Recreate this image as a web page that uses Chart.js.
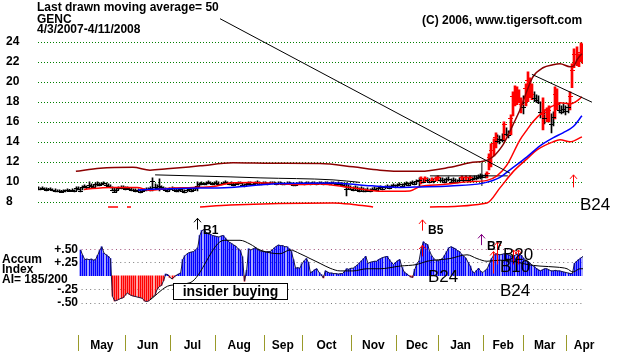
<!DOCTYPE html>
<html>
<head>
<meta charset="utf-8">
<script src="https://cdn.jsdelivr.net/npm/chart.js@4/dist/chart.umd.min.js"></script>
<style>
  html, body { margin: 0; padding: 0; background: #fff; }
  #wrap { width: 622px; height: 352px; }
</style>
</head>
<body>
<div id="wrap"><canvas id="genc" width="622" height="352"></canvas></div>
<script>
// daily bars, trading day index 0 = 4/3/2007
const highs = [
  9.5,9.4,9.5,9.4,9.4,9.35,9.4,9.3,9.3,9.2,
  9.2,9.15,9.2,9.2,9.3,9.25,9.3,9.2,9.5,9.5,
  9.4,9.6,9.7,9.6,10.0,9.8,9.7,9.9,10.0,9.9,
  9.9,10.0,9.9,9.8,9.7,9.5,9.4,9.3,9.5,9.6,
  9.6,9.5,9.5,9.4,9.4,9.3,9.3,9.3,9.2,9.3,
  9.3,9.4,9.4,9.5,10.4,9.8,9.7,10.3,9.6,9.5,
  9.4,9.3,9.4,9.5,9.4,9.3,9.3,9.4,9.3,9.2,
  9.3,9.4,9.3,9.4,9.5,10.0,9.9,10.0,9.9,10.0,
  10.1,10.0,9.9,10.0,10.1,10.0,9.9,10.0,10.1,10.0,
  9.9,10.0,9.9,9.9,10.0,10.0,9.9,9.8,9.9,10.0,
  10.0,9.9,10.0,10.1,10.0,9.9,10.0,10.0,9.9,10.0,
  10.0,10.0,9.9,10.0,10.0,9.9,9.9,10.0,10.0,9.9,
  9.9,9.8,9.9,10.0,10.0,9.9,10.0,10.0,9.9,10.0,
  10.0,9.9,10.0,10.0,9.9,10.0,10.0,9.9,10.0,10.0,
  9.9,10.0,9.9,9.9,9.8,9.9,9.7,9.6,9.5,9.6,
  9.5,9.4,9.5,9.4,9.3,9.4,9.3,9.4,9.5,9.4,
  9.5,9.6,9.5,9.6,9.7,9.6,9.7,9.8,9.7,9.8,
  9.9,9.8,9.9,10.0,9.9,10.0,10.1,10.0,10.2,10.4,
  10.5,10.3,10.5,10.4,10.3,10.4,10.3,10.5,10.6,10.4,
  10.4,10.3,10.4,10.5,10.3,10.4,10.3,10.2,10.4,10.6,
  10.4,10.6,10.4,10.6,10.5,10.6,10.6,10.7,10.8,10.7,
  10.8,11.0,12.8,13.8,14.3,14.9,14.7,14.6,14.8,16.0,
  15.4,15.1,16.7,19.0,19.6,19.5,19.2,18.4,18.6,19.8,
  21.0,20.4,19.8,19.0,18.7,18.6,18.0,18.4,17.2,17.4,
  17.6,16.8,17.0,19.5,19.3,17.9,17.6,17.8,17.6,17.8,
  19.0,21.8,23.3,23.5,22.8,23.9,23.8
];
const lows = [
  9.2,9.2,9.3,9.2,9.1,9.15,9.2,9.1,9.0,9.0,
  9.0,8.95,9.0,9.0,9.1,9.05,9.1,9.0,9.1,9.2,
  9.0,9.2,9.4,9.3,9.4,9.5,9.4,9.5,9.6,9.6,
  9.7,9.7,9.6,9.5,9.4,9.1,8.95,9.0,9.2,9.3,
  9.3,9.2,9.3,9.2,9.1,9.1,9.0,9.0,8.9,9.0,
  9.1,9.1,9.2,9.1,9.1,9.3,9.3,9.1,9.3,9.2,
  9.1,9.0,9.1,9.2,9.1,9.0,9.0,9.1,9.0,8.9,
  9.0,9.1,9.0,9.1,9.2,9.1,9.6,9.7,9.7,9.7,
  9.8,9.8,9.7,9.7,9.8,9.7,9.7,9.8,9.8,9.8,
  9.7,9.7,9.6,9.7,9.7,9.8,9.6,9.5,9.6,9.7,
  9.7,9.7,9.8,9.8,9.7,9.7,9.8,9.8,9.7,9.8,
  9.8,9.8,9.7,9.8,9.8,9.7,9.7,9.8,9.8,9.7,
  9.6,9.6,9.7,9.8,9.8,9.7,9.8,9.8,9.7,9.8,
  9.8,9.7,9.8,9.8,9.7,9.8,9.8,9.7,9.8,9.8,
  9.7,9.8,9.7,9.6,9.5,8.6,9.3,9.2,9.1,9.2,
  9.1,9.0,9.1,9.0,9.0,9.1,9.0,9.1,9.2,9.1,
  9.2,9.3,9.2,9.3,9.4,9.3,9.4,9.5,9.4,9.5,
  9.6,9.5,9.6,9.7,9.6,9.7,9.8,9.7,9.8,9.6,
  9.8,9.9,10.0,10.0,9.9,10.0,9.9,10.1,10.1,10.0,
  10.0,9.9,10.0,10.1,9.9,10.0,9.9,9.9,10.0,10.1,
  10.0,10.1,10.0,10.2,10.1,10.2,10.2,10.3,10.3,10.4,
  10.4,10.4,11.2,11.5,12.6,13.4,13.9,13.8,14.0,14.2,
  14.6,14.4,14.7,16.6,17.6,17.7,17.9,16.9,16.8,17.6,
  18.0,18.4,18.2,18.0,17.9,17.8,16.4,15.2,15.8,16.0,
  16.0,14.9,15.6,16.3,17.2,16.9,16.8,16.9,16.7,16.9,
  17.2,19.4,21.4,21.6,21.5,22.0,21.8
];
const closes = [
  9.3,9.3,9.4,9.25,9.2,9.3,9.25,9.2,9.1,9.1,
  9.1,9.0,9.1,9.15,9.2,9.1,9.2,9.1,9.4,9.3,
  9.1,9.5,9.6,9.5,9.7,9.6,9.5,9.8,9.8,9.7,
  9.8,9.9,9.7,9.6,9.5,9.2,9.0,9.2,9.4,9.5,
  9.4,9.3,9.4,9.3,9.2,9.2,9.1,9.2,9.0,9.1,
  9.2,9.3,9.3,9.4,10.1,9.5,9.4,9.6,9.5,9.3,
  9.2,9.1,9.3,9.4,9.2,9.1,9.2,9.3,9.1,9.0,
  9.2,9.3,9.1,9.2,9.4,9.6,9.8,9.9,9.8,9.9,
  10.0,9.9,9.8,9.9,9.9,9.8,9.8,9.9,10.0,9.9,
  9.8,9.8,9.7,9.8,9.9,9.9,9.7,9.6,9.8,9.9,
  9.8,9.8,9.9,10.0,9.8,9.8,9.9,9.9,9.8,9.9,
  9.9,9.9,9.8,9.9,9.9,9.8,9.8,9.9,9.9,9.8,
  9.7,9.7,9.8,9.9,9.9,9.8,9.9,9.9,9.8,9.9,
  9.9,9.8,9.9,9.9,9.8,9.9,9.9,9.8,9.9,9.9,
  9.8,9.9,9.8,9.7,9.6,9.3,9.5,9.3,9.2,9.4,
  9.2,9.1,9.3,9.1,9.1,9.2,9.1,9.3,9.3,9.2,
  9.4,9.5,9.3,9.5,9.6,9.4,9.6,9.7,9.5,9.7,
  9.8,9.6,9.8,9.9,9.7,9.9,10.0,9.8,10.1,10.2,
  10.4,10.0,10.4,10.2,10.0,10.2,10.1,10.4,10.5,10.2,
  10.2,10.0,10.3,10.3,10.0,10.2,10.0,10.0,10.2,10.5,
  10.2,10.5,10.2,10.5,10.3,10.4,10.4,10.5,10.6,10.5,
  10.7,10.9,12.5,13.2,13.9,14.5,14.1,14.3,14.2,15.8,
  14.8,14.7,16.4,18.6,18.5,18.9,18.2,17.8,17.5,19.4,
  20.2,19.0,18.8,18.4,18.2,18.0,17.0,16.8,16.4,17.0,
  17.2,15.8,16.5,18.8,17.8,17.2,17.0,17.3,17.1,17.5,
  18.6,21.2,22.8,22.0,22.3,23.0,22.5
];
// bars drawn in red
const redDays = [180,182,185,187,188,199,201,203,211,212,213,214,215,219,222,223,224,225,226,227,
  229,230,231,232,237,239,240,243,244,250,251,252,253,254,255,256];

// lines on the price panel: [day, price]
const upperBand = [[17.8,11.05],[29.1,11.35],[44.6,11.45],[52.6,11.17],[60.6,11.3],[76.1,11.6],[91.6,11.9],
  [110.4,11.85],[132.5,11.83],[148,11.5],[160.6,11.17],[173.3,11.05],[179.4,11.05],[193.5,11.45],[202.9,11.9],
  [212.3,12.3],[218.4,13.7],[223.1,15.7],[226.4,17.2],[229.7,19.1],[232.5,20.5],[237.2,21.4],[241.9,21.7],
  [245.2,21.8],[249.9,21.5],[251.8,21.6],[253.2,22.2],[255.5,22.8]];
const redMA = [[21.6,9.25],[33.8,9.44],[46.5,9.44],[52.6,9.15],[60.6,9.35],[72.8,9.44],[82.2,9.54],[91.6,9.92],
  [101,9.95],[112.3,9.82],[123.1,9.73],[132.5,9.8],[146.5,9.44],[162,9.06],[174.7,9.1],[179.4,9.54],[190.2,9.73],
  [201.5,10.0],[210.9,10.15],[215.6,10.6],[220.3,11.7],[226.4,14.2],[229.7,15.2],[232.5,16.0],[237.2,17.0],
  [241.9,17.6],[245.2,17.9],[249.9,17.8],[253.2,18.1],[255.5,18.5]];
const blueMA = [[47,9.2],[66.7,9.35],[90.2,9.45],[113.7,9.85],[138.6,9.9],[151.2,9.7],[170,9.45],[179.4,9.5],
  [193.5,9.6],[208.5,9.85],[217,10.45],[221.7,11.2],[229.7,12.5],[235.8,13.6],[241.9,14.4],[246.6,14.9],
  [251.3,15.5],[255.5,16.6]];
const lowerBand = [[32.9,7.5],[37.6,7.5],[40,null],[41.8,7.5],[43.7,7.5],[50,null],[76.1,7.5],[90.2,7.7],
  [138.6,7.9],[148,7.75],[157.4,7.5],[170,null],[184.1,7.5],[210.9,7.9],[217,9.4],[223.1,11.0],[229.7,12.3],
  [234.4,13.2],[241.9,14.0],[245.2,14.2],[249.9,14.0],[255.5,14.5]];
const blackUpper = [[55,10.7],[90.2,10.5],[104.3,10.4],[138.6,10.2],[151.2,9.95]];
const boxTop = [[184.1,10.6],[220.7,10.6]];
const boxSide = [[208.5,9.6],[208.5,11.9]];
const maPointer = [[85.5,26.3],[221.7,10.87]];
const resistance = [[232,20.74],[260.2,17.96]];

// accumulation index, starts at day 20
const accumStart = 20;
const accum = [
  0.48,0.38,0.30,0.31,0.30,0.31,0.29,0.30,0.38,0.47,
  0.54,0.42,0.39,0.36,0.32,-0.38,-0.47,-0.46,-0.44,-0.42,
  -0.41,-0.36,-0.32,-0.35,-0.37,-0.38,-0.39,-0.40,-0.41,-0.42,
  -0.47,-0.48,-0.47,-0.43,-0.39,-0.35,-0.25,-0.20,-0.18,-0.09,
  0.03,0.02,-0.03,-0.06,-0.02,0.01,0.03,0.05,0.30,0.37,
  0.41,0.43,0.44,0.45,0.48,0.52,0.75,0.84,0.86,0.80,
  0.78,0.77,0.75,0.74,0.73,0.72,0.74,0.75,0.70,0.66,
  0.62,0.60,0.57,0.55,0.50,0.47,0.35,-0.10,0.10,0.50,
  0.48,0.50,0.52,0.49,0.47,0.45,0.45,0.44,0.45,0.45,
  0.48,0.52,0.55,0.57,0.56,0.56,0.54,0.54,0.50,0.45,
  0.30,0.14,0.15,0.14,0.22,0.28,0.32,0.25,0.05,0.08,
  0.11,0.13,0.06,0.02,-0.04,0.09,0.07,0.05,0.05,0.04,
  0.04,0.03,0.04,0.04,0.08,0.13,0.12,0.14,0.14,0.17,
  0.20,0.24,0.28,0.32,0.36,0.23,0.25,0.26,0.27,0.27,
  0.30,0.32,0.34,0.35,0.36,0.30,0.25,0.21,0.25,0.28,
  0.30,0.15,0.07,0.04,0.01,-0.02,-0.03,0.12,0.22,0.28,
  0.50,0.63,0.60,0.58,0.45,0.37,0.32,0.28,0.28,0.30,
  0.32,0.38,0.45,0.52,0.54,0.52,0.50,0.47,0.45,0.40,
  0.36,0.33,0.25,0.18,0.08,0.05,0.10,0.14,0.08,0.06,
  0.10,0.13,0.22,0.32,0.37,0.41,0.40,0.39,0.40,0.41,
  0.41,0.39,0.37,0.36,0.38,0.40,0.41,0.38,0.33,0.29,
  0.27,0.24,0.20,0.17,0.14,0.11,0.09,0.11,0.13,0.13,
  0.11,0.09,0.09,0.10,0.09,0.09,0.08,0.07,0.06,0.05,
  0.04,0.04,0.23,0.27,0.30,0.33,0.36
];
const accumMA = [[52.6,-0.45],[62,-0.18],[71.4,-0.13],[87.4,0.66],[94.9,0.66],[99.6,0.59],[104.3,0.48],
  [113.7,0.41],[118.4,0.48],[123.1,0.41],[127.8,0.32],[132.5,0.23],[137.2,0.14],[141.9,0.09],[148,0.09],
  [154.5,0.13],[160.6,0.13],[170,0.18],[178,0.21],[182.7,0.27],[193.5,0.32],[201.5,0.39],[206.2,0.32],
  [210.9,0.27],[217,0.29],[223.1,0.27],[229.7,0.21],[235.8,0.18],[243.8,0.16],[248.5,0.13],[251.3,0.07],
  [254.6,0.13],[256,0.13]];

// signals
const accumArrows = [
  { day: 74.7, lo: 0.86, hi: 1.07, color: '#000000' },
  { day: 180.4, lo: 0.84, hi: 1.04, color: '#ff0000' },
  { day: 180.4, lo: 0.36, hi: 0.57, color: '#ff0000' },
  { day: 208, lo: 0.57, hi: 0.77, color: '#800080' },
  { day: 213.7, lo: 0.04, hi: 0.45, color: '#ff0000' },
  { day: 215.6, lo: 0.21, hi: 0.63, color: '#ff0000' },
  { day: 223, lo: 0.21, hi: 0.48, color: '#ff0000' },
  { day: 225.5, lo: 0.21, hi: 0.48, color: '#ff0000' }
];
const priceArrows = [{ day: 251.3, lo: 9.45, hi: 10.7, color: '#ff0000' }];
const accumSignalText = [
  { text: 'B1', day: 77.5, v: 0.84, big: false },
  { text: 'B5', day: 183.2, v: 0.84, big: false },
  { text: 'B7', day: 210.9, v: 0.55, big: false },
  { text: 'B20', day: 218.4, v: 0.38, big: true },
  { text: 'B10', day: 217, v: 0.16, big: true },
  { text: 'B24', day: 183.2, v: -0.02, big: true },
  { text: 'B24', day: 217, v: -0.29, big: true }
];
const priceSignalText = [{ text: 'B24', day: 254.6, price: 7.67 }];
const insiderBox = { text: 'insider buying', from: 63.4, to: 116.9, top: -0.13, bottom: -0.43 };

const priceTicks = [8, 10, 12, 14, 16, 18, 20, 22, 24];
const accumTicks = [0.5, 0.25, -0.25, -0.5];
const accumTickLabels = ['+.50', '+.25', '-.25', '-.50'];
const months = ['May', 'Jun', 'Jul', 'Aug', 'Sep', 'Oct', 'Nov', 'Dec', 'Jan', 'Feb', 'Mar', 'Apr'];
const monthStarts = [19, 41, 62, 83, 106, 124, 147, 168, 188, 209, 228, 248];

const FONT = "'Liberation Sans', Arial, sans-serif";
const days = highs.map((_, i) => i);
const isRed = d => redDays.includes(d);
const pts = arr => arr.map(p => ({ x: p[0], y: p[1] }));

function lineSet(data, color, width, extra) {
    return Object.assign({
        type: 'line',
        data: pts(data),
        borderColor: color,
        borderWidth: width,
        pointRadius: 0,
        cubicInterpolationMode: 'monotone',
        spanGaps: false,
        yAxisID: 'y',
        order: 1
    }, extra || {});
}

function arrow(ctx, px, yTop, yBot, color) {
    ctx.strokeStyle = color;
    ctx.lineWidth = 1;
    ctx.setLineDash([]);
    ctx.beginPath();
    ctx.moveTo(px, yBot);
    ctx.lineTo(px, yTop);
    ctx.moveTo(px - 3.5, yTop + 4);
    ctx.lineTo(px, yTop);
    ctx.lineTo(px + 3.5, yTop + 4);
    ctx.stroke();
}

// keep 1px bars and close ticks on whole pixels so the stripes stay crisp
const snapToPixels = {
    id: 'snapToPixels',
    beforeDatasetsDraw(chart) {
        chart.data.datasets.forEach((ds, i) => {
            const meta = chart.getDatasetMeta(i);
            if (ds.type === 'bar') {
                const odd = (ds.barThickness || 1) % 2 === 1;
                meta.data.forEach(el => { el.x = odd ? Math.floor(el.x) + 0.5 : Math.round(el.x); });
            } else if (ds.type === 'scatter') {
                meta.data.forEach(el => { el.x = Math.floor(el.x) + 0.5; el.y = Math.round(el.y) + 0.5; });
            }
        });
    }
};

const overlay = {
    id: 'overlay',
    beforeDatasetsDraw(chart) {
        const { ctx, chartArea, scales: { x, y, y2 } } = chart;
        ctx.save();
        ctx.lineWidth = 1;
        // dotted price grid
        ctx.strokeStyle = '#008000';
        ctx.setLineDash([1, 2]);
        priceTicks.forEach(v => {
            const py = Math.round(y.getPixelForValue(v)) + 0.5;
            ctx.beginPath();
            ctx.moveTo(chartArea.left, py);
            ctx.lineTo(chartArea.right, py);
            ctx.stroke();
        });
        // dotted accum grid
        ctx.setLineDash([1, 3.3]);
        const ax0 = x.getPixelForValue(accumStart) + 1;
        accumTicks.forEach((v, i) => {
            const py = Math.round(y2.getPixelForValue(v)) + 0.5;
            ctx.strokeStyle = i === 0 ? '#a0507a' : '#7a7a7a';
            ctx.beginPath();
            ctx.moveTo(ax0, py);
            ctx.lineTo(chartArea.right, py);
            ctx.stroke();
        });
        ctx.restore();
    },
    afterDatasetsDraw(chart) {
        const { ctx, scales: { x, y, y2 } } = chart;
        ctx.save();
        ctx.setLineDash([]);
        accumArrows.forEach(a => arrow(ctx, Math.round(x.getPixelForValue(a.day)) + 0.5,
            y2.getPixelForValue(a.hi), y2.getPixelForValue(a.lo), a.color));
        priceArrows.forEach(a => arrow(ctx, Math.round(x.getPixelForValue(a.day)) + 0.5,
            y.getPixelForValue(a.hi), y.getPixelForValue(a.lo), a.color));

        ctx.fillStyle = '#000';
        ctx.textBaseline = 'middle';
        ctx.textAlign = 'left';
        accumSignalText.forEach(s => {
            ctx.font = s.big ? `17px ${FONT}` : `bold 12px ${FONT}`;
            ctx.fillText(s.text, x.getPixelForValue(s.day), y2.getPixelForValue(s.v));
        });
        ctx.font = `17px ${FONT}`;
        priceSignalText.forEach(s => {
            ctx.fillText(s.text, x.getPixelForValue(s.day), y.getPixelForValue(s.price));
        });

        // insider buying callout
        const bx0 = Math.round(x.getPixelForValue(insiderBox.from)) + 0.5;
        const bx1 = Math.round(x.getPixelForValue(insiderBox.to)) + 0.5;
        const by0 = Math.round(y2.getPixelForValue(insiderBox.top)) + 0.5;
        const by1 = Math.round(y2.getPixelForValue(insiderBox.bottom)) + 0.5;
        ctx.fillStyle = '#fff';
        ctx.fillRect(bx0, by0, bx1 - bx0, by1 - by0);
        ctx.strokeStyle = '#000';
        ctx.lineWidth = 1;
        ctx.strokeRect(bx0, by0, bx1 - bx0, by1 - by0);
        ctx.fillStyle = '#000';
        ctx.font = `bold 14px ${FONT}`;
        ctx.textAlign = 'center';
        ctx.fillText(insiderBox.text, (bx0 + bx1) / 2, (by0 + by1) / 2 + 0.5);
        ctx.restore();
    },
    afterDraw(chart) {
        const { ctx, scales: { x, y2 } } = chart;
        ctx.save();
        ctx.fillStyle = '#000';
        ctx.textBaseline = 'middle';
        ctx.textAlign = 'left';
        ctx.font = `bold 12px ${FONT}`;
        ctx.fillText('Last drawn moving average= 50', 37, 8);
        ctx.fillText('GENC', 37, 19.5);
        ctx.fillText('4/3/2007-4/11/2008', 37, 30);
        ctx.fillText('(C) 2006, www.tigersoft.com', 422, 21);

        ctx.fillText('Accum', 2, 259.5);
        ctx.fillText('Index', 2, 269.5);
        ctx.fillText('AI= 185/200', 2, 279.5);

        ctx.textAlign = 'right';
        accumTicks.forEach((v, i) => {
            ctx.fillText(accumTickLabels[i], 78, y2.getPixelForValue(v) + 0.5);
        });

        // month separators and names
        ctx.textAlign = 'center';
        monthStarts.forEach((d, i) => {
            const px = Math.round(x.getPixelForValue(d)) + 0.5;
            ctx.strokeStyle = '#9a9a2a';
            ctx.lineWidth = 1;
            ctx.beginPath();
            ctx.moveTo(px, 335);
            ctx.lineTo(px, 351);
            ctx.stroke();
            const next = i + 1 < monthStarts.length ? monthStarts[i + 1] : d + 17;
            const cx = (x.getPixelForValue(d) + x.getPixelForValue(next)) / 2;
            ctx.fillText(months[i], cx, 346);
        });
        ctx.restore();
    }
};

new Chart(document.getElementById('genc'), {
    type: 'bar',
    data: {
        datasets: [
            lineSet(maPointer, '#000000', 1, { cubicInterpolationMode: 'default', tension: 0, clip: false }),
            lineSet(resistance, '#000000', 1, { cubicInterpolationMode: 'default', tension: 0, clip: false }),
            lineSet(blueMA, '#0000ff', 1.5),
            lineSet(redMA, '#ff0000', 1.5),
            lineSet(upperBand, '#8b0000', 1.5),
            lineSet(lowerBand, '#ff0000', 1.5),
            lineSet(blackUpper, '#000000', 1),
            lineSet(boxTop, '#000000', 1, { tension: 0 }),
            lineSet(boxSide, '#000000', 1, { cubicInterpolationMode: 'default', tension: 0 }),
            {
                type: 'scatter',
                data: days.map(d => ({ x: d, y: closes[d] })),
                pointStyle: 'line',
                pointRadius: 2.5,
                pointBorderWidth: 1,
                pointBorderColor: c => isRed(c.raw.x) ? '#ff0000' : '#000000',
                yAxisID: 'y',
                order: 2
            },
            {
                type: 'bar',
                data: days.filter(isRed).map(d => ({ x: d, y: [lows[d], highs[d]] })),
                backgroundColor: '#ff0000',
                barThickness: 2,
                grouped: false,
                yAxisID: 'y',
                order: 3
            },
            {
                type: 'bar',
                data: days.filter(d => !isRed(d)).map(d => ({ x: d, y: [lows[d], highs[d]] })),
                backgroundColor: '#000000',
                barThickness: 1,
                grouped: false,
                yAxisID: 'y',
                order: 3
            },
            {
                type: 'line',
                data: accumMA.map(p => ({ x: p[0], y: p[1] })),
                borderColor: '#000000',
                borderWidth: 1,
                pointRadius: 0,
                cubicInterpolationMode: 'monotone',
                yAxisID: 'y2',
                order: 1
            },
            {
                type: 'line',
                data: accum.map((v, i) => ({ x: accumStart + i, y: v })),
                borderColor: '#1a1a40',
                borderWidth: 1,
                pointRadius: 0,
                tension: 0,
                yAxisID: 'y2',
                order: 2
            },
            {
                type: 'bar',
                data: accum.map((v, i) => ({ x: accumStart + i, y: v })),
                backgroundColor: c => c.raw && c.raw.y < 0 ? '#ff0000' : '#0000ff',
                barThickness: 1,
                grouped: false,
                yAxisID: 'y2',
                order: 4
            }
        ]
    },
    options: {
        responsive: false,
        animation: false,
        devicePixelRatio: 1,
        events: [],
        layout: { padding: { left: 6, right: 39, top: 0, bottom: 0 } },
        plugins: { legend: { display: false }, tooltip: { enabled: false } },
        scales: {
            x: {
                type: 'linear',
                min: 0,
                max: 256,
                offset: false,
                display: false
            },
            y: {
                position: 'left',
                min: -6.275,
                max: 27.449,
                grid: { display: false },
                border: { display: false },
                afterBuildTicks: scale => { scale.ticks = priceTicks.map(v => ({ value: v })); },
                afterFit: scale => { scale.width = 32; },
                ticks: {
                    crossAlign: 'far',
                    padding: 0,
                    color: '#000',
                    font: { family: FONT, size: 12, weight: 'bold' }
                }
            },
            y2: {
                position: 'left',
                min: -1.2857,
                max: 5.0,
                display: false
            }
        }
    },
    plugins: [snapToPixels, overlay]
});
</script>
</body>
</html>
